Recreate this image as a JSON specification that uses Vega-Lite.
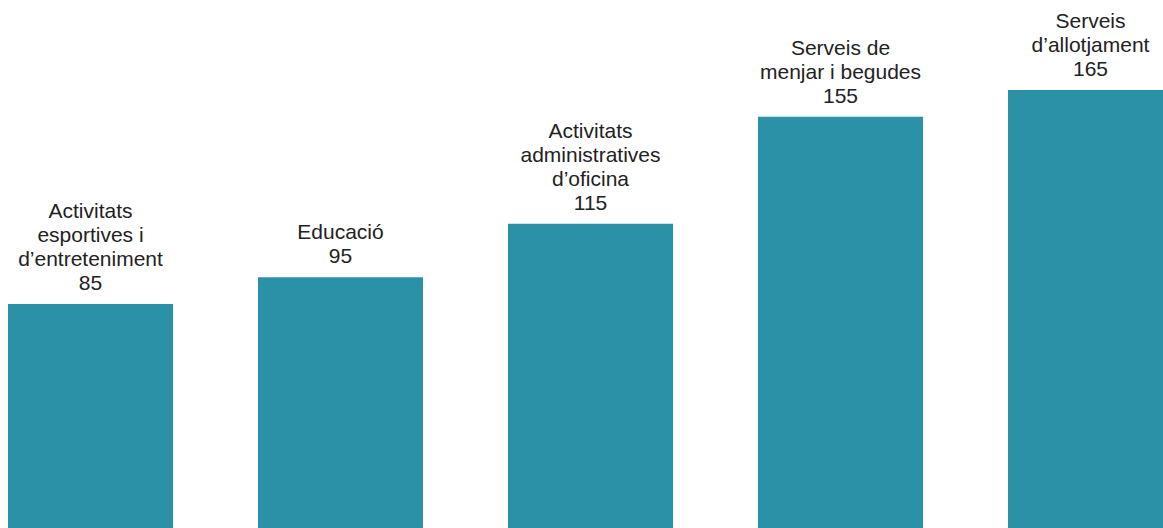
{
  "$schema": "https://vega.github.io/schema/vega-lite/v6.json",
  "width": 1163,
  "height": 528,
  "autosize": "none",
  "padding": 0,
  "background": "white",
  "config": {"view": {"stroke": null}},
  "data": {
    "values": [
      {"category": "Activitats esportives i d’entreteniment", "label": "Activitats\nesportives i\nd’entreteniment", "value": 85},
      {"category": "Educació", "label": "Educació", "value": 95},
      {"category": "Activitats administratives d’oficina", "label": "Activitats\nadministratives\nd’oficina", "value": 115},
      {"category": "Serveis de menjar i begudes", "label": "Serveis de\nmenjar i begudes", "value": 155},
      {"category": "Serveis d’allotjament", "label": "Serveis\nd’allotjament", "value": 165}
    ]
  },
  "transform": [{"calculate": "datum.label + '\\n' + datum.value", "as": "fullLabel"}],
  "encoding": {
    "x": {
      "field": "category",
      "type": "nominal",
      "sort": null,
      "axis": null,
      "scale": {"range": [0, 1181], "paddingInner": 0.34, "paddingOuter": 0.032}
    },
    "y": {
      "field": "value",
      "type": "quantitative",
      "axis": null,
      "scale": {"domain": [1.27, 198.65], "zero": false, "nice": false}
    }
  },
  "layer": [
    {"mark": {"type": "bar", "color": "#2a91a6", "y2": {"expr": "scale('y', 0)"}}},
    {
      "mark": {
        "type": "text",
        "baseline": "alphabetic",
        "align": "center",
        "dy": {"expr": "-14 - 24 * (length(split(datum.fullLabel, '\\n')) - 1)"},
        "font": "Liberation Sans",
        "fontSize": 21,
        "lineHeight": 24,
        "lineBreak": "\n",
        "color": "#222222"
      },
      "encoding": {"text": {"field": "fullLabel"}}
    }
  ]
}
